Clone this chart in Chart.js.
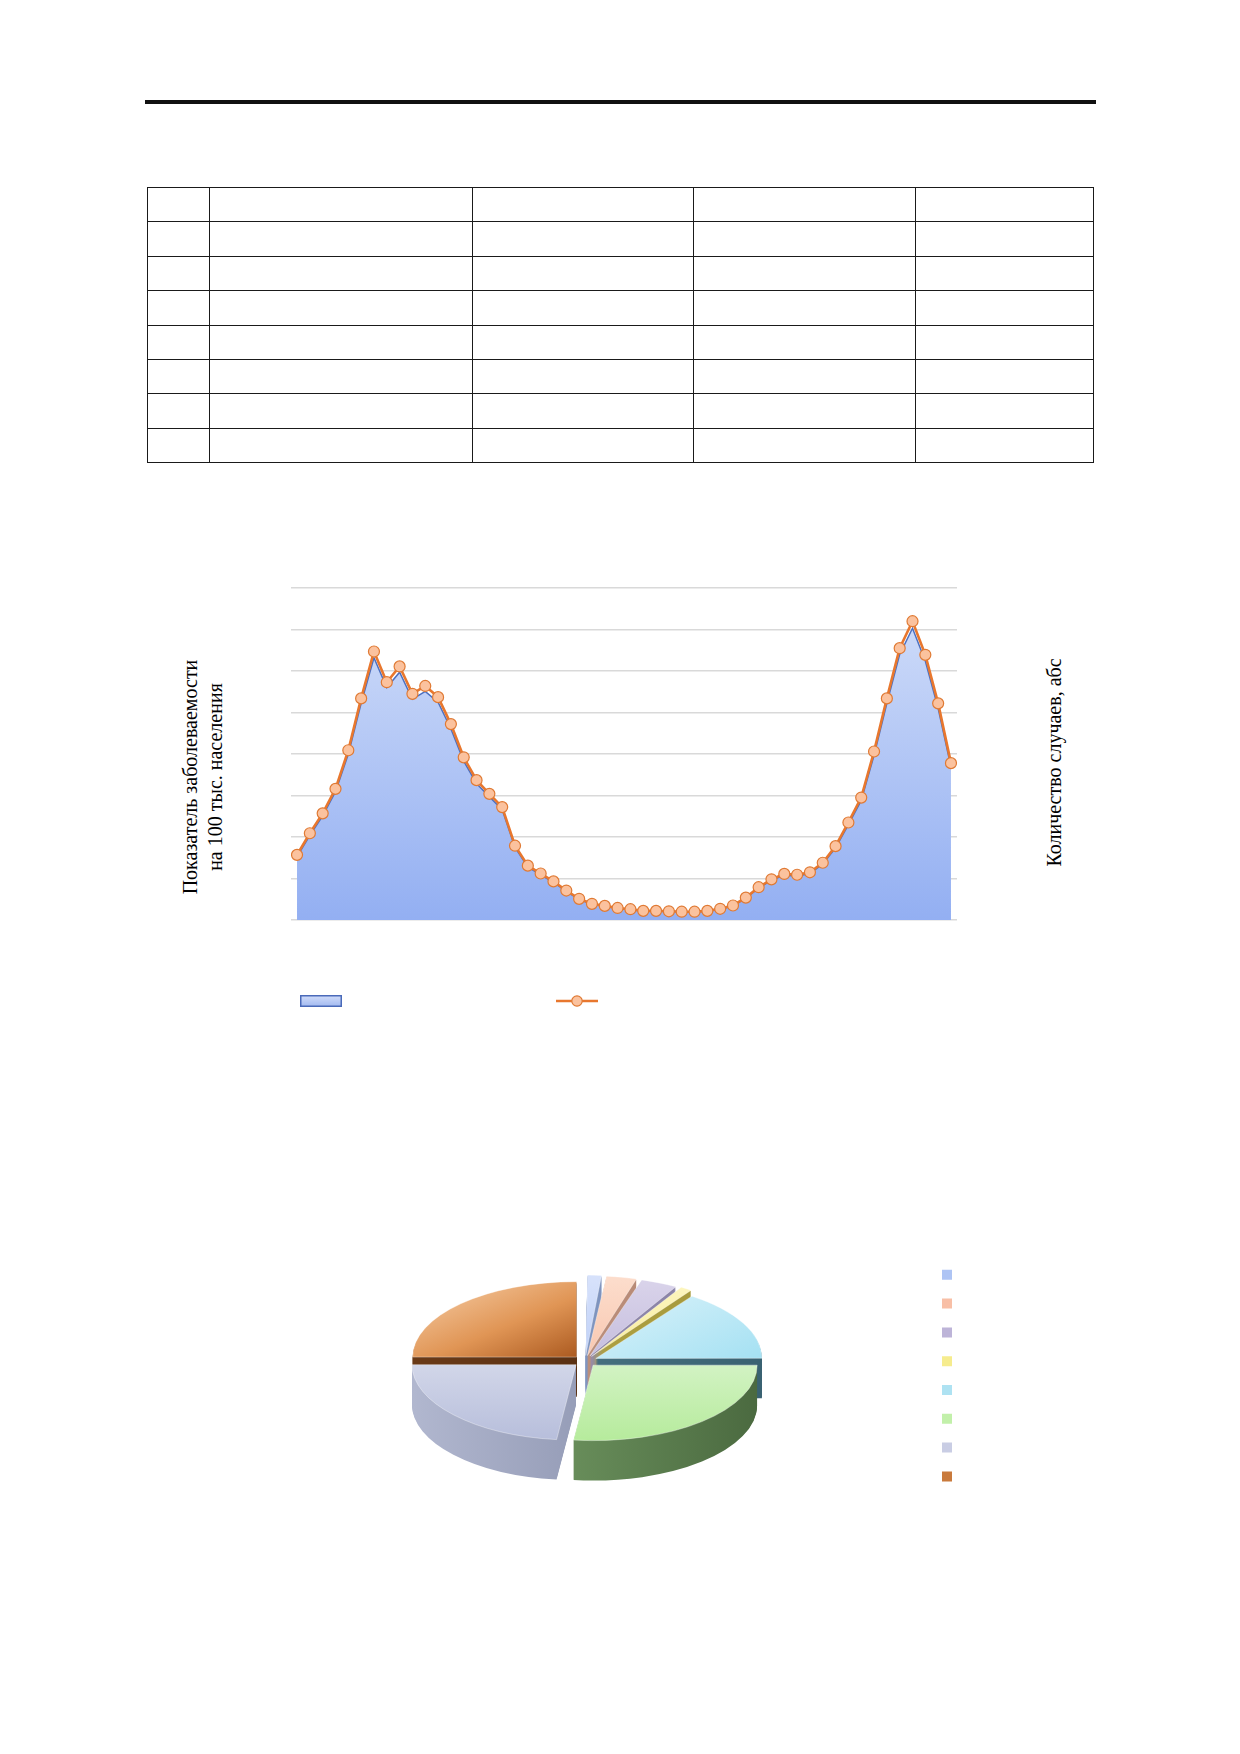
<!DOCTYPE html>
<html lang="ru">
<head>
<meta charset="utf-8">
<title>Заболеваемость</title>
<script src="https://cdn.jsdelivr.net/npm/chart.js@4.4.1/dist/chart.umd.min.js"></script>
<style>
    html, body { margin: 0; padding: 0; background: #fff; }
    body {
        width: 1240px;
        height: 1754px;
        position: relative;
        overflow: hidden;
        font-family: "Liberation Serif", "Times New Roman", serif;
        color: #000;
    }
    .rule {
        position: absolute;
        left: 145px;
        top: 100px;
        width: 951px;
        height: 3.5px;
        background: #111;
    }
    table.blank {
        position: absolute;
        left: 147px;
        top: 187px;
        border-collapse: collapse;
        table-layout: fixed;
    }
    table.blank td {
        border: 1.5px solid #1a1a1a;
        padding: 0;
        height: 33.4px;
    }
    .axis-title {
        position: absolute;
        font-size: 20px;
        line-height: 25px;
        text-align: center;
        white-space: nowrap;
        transform: rotate(-90deg);
    }
    canvas { position: absolute; }
</style>
</head>
<body>
    <div class="rule"></div>

    <table class="blank">
        <colgroup>
            <col style="width:62px"><col style="width:263px"><col style="width:221px"><col style="width:222px"><col style="width:178px">
        </colgroup>
        <tr><td></td><td></td><td></td><td></td><td></td></tr>
        <tr><td></td><td></td><td></td><td></td><td></td></tr>
        <tr><td></td><td></td><td></td><td></td><td></td></tr>
        <tr><td></td><td></td><td></td><td></td><td></td></tr>
        <tr><td></td><td></td><td></td><td></td><td></td></tr>
        <tr><td></td><td></td><td></td><td></td><td></td></tr>
        <tr><td></td><td></td><td></td><td></td><td></td></tr>
        <tr><td></td><td></td><td></td><td></td><td></td></tr>
    </table>

    <div class="axis-title" style="left:73px; top:752px; width:260px; height:50px;">Показатель заболеваемости<br>на 100 тыс. населения</div>
    <div class="axis-title" style="left:934px; top:750px; width:240px; height:25px;">Количество случаев, абс</div>

    <canvas id="weekChart" width="819" height="457" style="left:191px; top:560px;"></canvas>
    <canvas id="pieChart" width="760" height="377" style="left:245px; top:1240px;"></canvas>

<script>
    // weekly data (52 weeks)
    var weeks = [1, 2, 3, 4, 5, 6, 7, 8, 9, 10, 11, 12, 13, 14, 15, 16, 17, 18, 19, 20,
        21, 22, 23, 24, 25, 26, 27, 28, 29, 30, 31, 32, 33, 34, 35, 36, 37, 38, 39, 40,
        41, 42, 43, 44, 45, 46, 47, 48, 49, 50, 51, 52];

    // rate per 100 000 (left axis, area)
    var ratePer100k = [15.3, 20.4, 25.1, 30.9, 40.0, 52.2, 63.2, 56.0, 59.7, 53.2,
        55.1, 52.5, 46.1, 38.3, 32.9, 29.7, 26.6, 17.5, 12.8, 10.9,
        9.1, 6.9, 5.0, 3.8, 3.3, 2.8, 2.5, 2.1, 2.1, 2.1,
        2.0, 2.0, 2.1, 2.6, 3.4, 5.3, 7.7, 9.6, 10.8, 10.6,
        11.2, 13.5, 17.4, 23.0, 28.8, 39.7, 52.2, 64.0, 70.3, 62.4,
        51.0, 36.9];

    // absolute number of cases (right axis, line)
    var casesAbs = [157, 209, 257, 316, 409, 534, 647, 573, 611, 545,
        564, 537, 472, 392, 337, 304, 272, 179, 131, 112,
        93, 71, 51, 39, 34, 29, 26, 22, 22, 21,
        20, 20, 22, 27, 35, 54, 79, 98, 111, 109,
        115, 138, 178, 235, 295, 406, 534, 655, 720, 639,
        522, 378];

    // pie: shares, %
    var pieLabels = ['', '', '', '', '', '', '', ''];
    var pieShares = [1.6, 3.1, 3.7, 1.4, 15.2, 26.9, 23.1, 25.0];

    var pieTop = [
        ['#d6e1fb', '#a9c0f3'], ['#fcdccb', '#f5b497'], ['#d9d3ea', '#b3aad2'], ['#fdf6c0', '#f4e37a'],
        ['#e6f6fb', '#9fdff2'], ['#eefaea', '#b6eb9c'], ['#eceef6', '#b7bedb'], ['#f8d2ad', '#a5531a']
    ];
    var pieSide = [
        ['#8ea3cc', '#7186b2'], ['#c79a84', '#b08371'], ['#9d95b8', '#857ea1'], ['#b8ab4a', '#a39639'],
        ['#4f7b8b', '#3a6272'], ['#7ea86e', '#4b6a40'], ['#b1b7cf', '#7c84a1'], ['#6a3a17', '#4a270e']
    ];
    var pieKey = ['#aec4f4', '#f8bfa6', '#bdb4d8', '#f6ec8e', '#aee2f2', '#c2f0aa', '#c9cde4', '#c97a3c'];

    // ---------- weekly chart ----------
    function legendArea() {
        var c = document.createElement('canvas');
        c.width = 42; c.height = 12;
        var g = c.getContext('2d');
        var grad = g.createLinearGradient(0, 0, 0, 12);
        grad.addColorStop(0, '#d3defa');
        grad.addColorStop(1, '#a0b8f0');
        g.fillStyle = grad;
        g.fillRect(1, 1, 40, 10);
        g.strokeStyle = '#4a6ab9';
        g.lineWidth = 1.5;
        g.strokeRect(0.75, 0.75, 40.5, 10.5);
        return c;
    }

    function legendLine() {
        var c = document.createElement('canvas');
        c.width = 42; c.height = 14;
        var g = c.getContext('2d');
        g.strokeStyle = '#e8772e';
        g.lineWidth = 2.6;
        g.beginPath(); g.moveTo(0, 7); g.lineTo(42, 7); g.stroke();
        g.fillStyle = '#fbc29e';
        g.strokeStyle = '#e07a34';
        g.lineWidth = 1.2;
        g.beginPath(); g.arc(21, 7, 5.2, 0, Math.PI * 2); g.fill(); g.stroke();
        return c;
    }

    var areaIcon = legendArea();
    var lineIcon = legendLine();

    new Chart(document.getElementById('weekChart'), {
        type: 'line',
        data: {
            datasets: [
                {
                    label: '',
                    data: weeks.map((w, i) => ({ x: w, y: casesAbs[i] })),
                    yAxisID: 'y2',
                    order: 0,
                    borderColor: '#e8772e',
                    borderWidth: 2.6,
                    pointRadius: 5.5,
                    pointBorderWidth: 1.2,
                    pointBorderColor: '#e07a34',
                    pointBackgroundColor: '#fbc29e',
                    tension: 0,
                    fill: false
                },
                {
                    label: '',
                    data: weeks.map((w, i) => ({ x: w, y: ratePer100k[i] })),
                    yAxisID: 'y',
                    order: 1,
                    borderColor: '#4c6fbf',
                    borderWidth: 1.5,
                    pointRadius: 0,
                    tension: 0,
                    fill: 'origin',
                    backgroundColor: function (ctx) {
                        var area = ctx.chart.chartArea;
                        if (!area) return '#b4c8f5';
                        var g = ctx.chart.ctx.createLinearGradient(0, area.top, 0, area.bottom);
                        g.addColorStop(0, '#d3dff9');
                        g.addColorStop(1, '#93aff2');
                        return g;
                    }
                }
            ]
        },
        options: {
            responsive: false,
            animation: false,
            events: [],
            layout: { padding: { top: 28, left: 0, right: 0, bottom: 0 } },
            scales: {
                x: {
                    type: 'linear',
                    min: 0.53,
                    max: 52.47,
                    grid: { display: false },
                    border: { display: false },
                    ticks: { display: false },
                    afterFit: function (s) { s.height = 65; }
                },
                y: {
                    position: 'left',
                    min: 0,
                    max: 80,
                    ticks: { display: false, stepSize: 10 },
                    border: { display: false },
                    grid: { color: '#d9d9d9', lineWidth: 1.5, drawTicks: false },
                    afterFit: function (s) { s.width = 100; }
                },
                y2: {
                    position: 'right',
                    min: 0,
                    max: 800,
                    ticks: { display: false },
                    border: { display: false },
                    grid: { display: false, drawTicks: false },
                    afterFit: function (s) { s.width = 53; }
                }
            },
            plugins: {
                tooltip: { enabled: false },
                legend: {
                    position: 'bottom',
                    align: 'start',
                    labels: {
                        usePointStyle: true,
                        pointStyleWidth: 240,
                        padding: 10,
                        font: { size: 12 },
                        generateLabels: function () {
                            return [
                                { text: '', pointStyle: areaIcon, fillStyle: '#b4c8f5', strokeStyle: '#4a6ab9', lineWidth: 0, hidden: false, datasetIndex: 1 },
                                { text: '', pointStyle: lineIcon, fillStyle: '#fbc29e', strokeStyle: '#e8772e', lineWidth: 0, hidden: false, datasetIndex: 0 }
                            ];
                        }
                    }
                }
            }
        }
    });

    // ---------- 3d-looking pie ----------
    var pieRadius = 164;
    var pieDepth = 40;
    var pieSquash = 0.46;
    var pieCentreY = 121;

    function squash(ctx, arc, dy) {
        ctx.translate(arc.x, pieCentreY + dy);
        ctx.scale(1, pieSquash);
        ctx.translate(-arc.x, -arc.y);
    }

    function sideFill(ctx, arc, i) {
        var g = ctx.createLinearGradient(arc.x - pieRadius, 0, arc.x + pieRadius, 0);
        g.addColorStop(0, pieSide[i][0]);
        g.addColorStop(1, pieSide[i][1]);
        return g;
    }

    function topFill(c) {
        var i = c.dataIndex;
        var area = c.chart.chartArea;
        if (i === undefined || !area) return pieKey[i || 0];
        var cx = (area.left + area.right) / 2;
        var cy = (area.top + area.bottom) / 2;
        var R = pieRadius;
        var g;
        if (i === 7) {
            g = c.chart.ctx.createLinearGradient(cx - R, cy - R, cx, cy + 0.1 * R);
            g.addColorStop(0, pieTop[i][0]);
            g.addColorStop(0.55, '#e09555');
            g.addColorStop(1, pieTop[i][1]);
        } else if (i === 4) {
            g = c.chart.ctx.createLinearGradient(cx - 0.2 * R, cy - R, cx + R, cy + 0.2 * R);
            g.addColorStop(0, pieTop[i][0]);
            g.addColorStop(1, pieTop[i][1]);
        } else {
            g = c.chart.ctx.createLinearGradient(cx, cy - R, cx, cy + R);
            g.addColorStop(0, pieTop[i][0]);
            g.addColorStop(1, pieTop[i][1]);
        }
        return g;
    }

    var pie3d = {
        id: 'pie3d',
        beforeDatasetsDraw: function (chart) {
            var ctx = chart.ctx;
            var arcs = chart.getDatasetMeta(0).data;
            for (var k = pieDepth; k > 0; k--) {
                arcs.forEach(function (arc, i) {
                    ctx.save();
                    squash(ctx, arc, k);
                    var side = Object.create(arc);
                    side.options = Object.assign({}, arc.options, { backgroundColor: sideFill(ctx, arc, i), borderWidth: 0 });
                    side.draw(ctx);
                    ctx.restore();
                });
            }
            ctx.save();
            squash(ctx, arcs[0], 0);
        },
        afterDatasetsDraw: function (chart) {
            chart.ctx.restore();
        }
    };

    new Chart(document.getElementById('pieChart'), {
        type: 'pie',
        data: {
            labels: pieLabels,
            datasets: [{
                data: pieShares,
                backgroundColor: topFill,
                borderColor: 'rgba(255,255,255,0.5)',
                borderWidth: 1,
                offset: 48
            }]
        },
        options: {
            responsive: false,
            animation: false,
            events: [],
            radius: pieRadius,
            layout: { padding: { top: 12, left: 0, right: 37, bottom: 0 } },
            plugins: {
                tooltip: { enabled: false },
                legend: {
                    position: 'right',
                    align: 'start',
                    labels: {
                        boxWidth: 10,
                        boxHeight: 10,
                        padding: 16.8,
                        font: { size: 12 },
                        generateLabels: function () {
                            return pieLabels.map(function (t, i) {
                                return { text: t, fillStyle: pieKey[i], strokeStyle: pieKey[i], lineWidth: 0, hidden: false, index: i };
                            });
                        }
                    }
                }
            }
        },
        plugins: [pie3d]
    });
</script>
</body>
</html>
